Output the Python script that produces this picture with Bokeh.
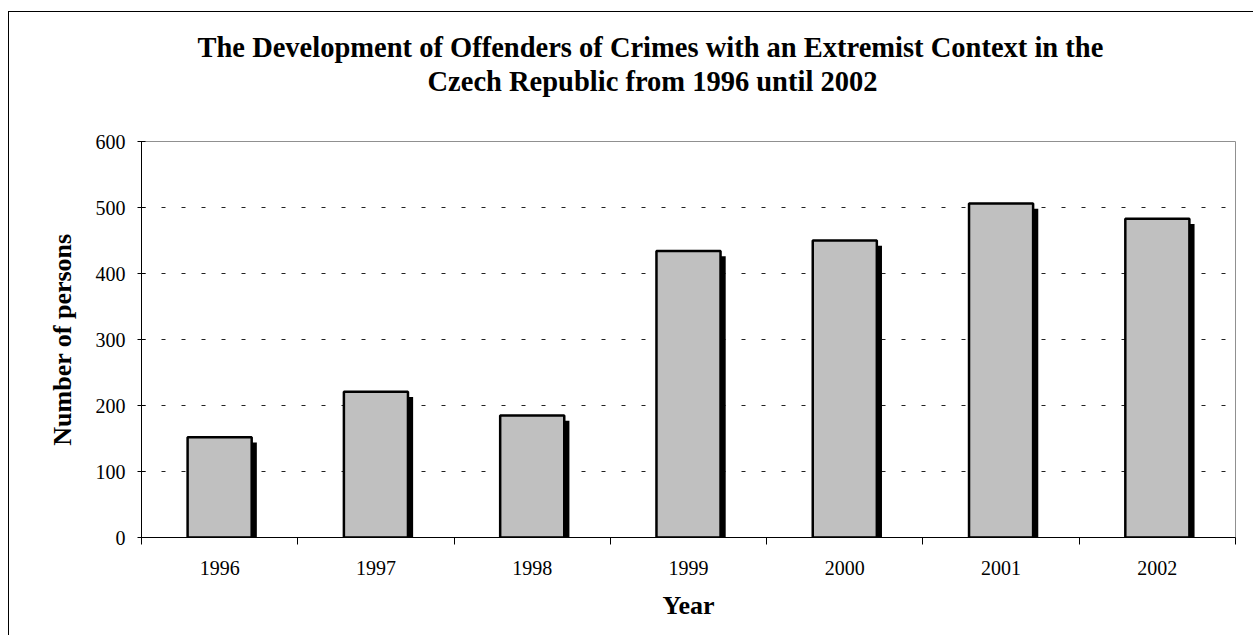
from bokeh.plotting import figure
from bokeh.models import (ColumnDataSource, Range1d, FixedTicker, SingleIntervalTicker, Title)
from bokeh.transform import dodge
from bokeh.embed import file_html
from bokeh.resources import INLINE

# ---- data ----
years = ["1996", "1997", "1998", "1999", "2000", "2001", "2002"]
persons = [152, 221, 185, 434, 450, 506, 483]
title_lines = ["The Development of Offenders of Crimes with an Extremist Context in the",
               "Czech Republic from 1996 until  2002"]
x_label = "Year"
y_label = "Number of persons"

xpos = [i + 0.5 for i in range(len(years))]
src = ColumnDataSource(dict(x=xpos, top=persons, year=years))

FONT = "Liberation Serif"

# outer chart-area border (left and top edges; right/bottom fall outside the picture)
outer_border = ("linear-gradient(#000, #000) 8px 11px / 1px 100% no-repeat, "
                "linear-gradient(#000, #000) 8px 11px / 100% 1px no-repeat, white")

p = figure(width=1253, height=635, output_backend="svg", toolbar_location=None,
           x_range=Range1d(0, len(years)), y_range=Range1d(0, 600),
           min_border_left=141, min_border_right=18, min_border_top=141,
           min_border_bottom=98, background_fill_color="white",
           border_fill_alpha=0, styles={"background": outer_border})

# title: two centred lines stacked above the plot
p.title = None
p.add_layout(Title(text=" ", text_font_size="1px", standoff=40), "above")
p.add_layout(Title(text=title_lines[1], align="left", offset=286,
                   text_font=FONT, text_font_size="28.5px", text_font_style="bold",
                   text_color="black", standoff=3), "above")
p.add_layout(Title(text=title_lines[0], align="left", offset=56,
                   text_font=FONT, text_font_size="28.5px", text_font_style="bold",
                   text_color="black", standoff=0), "above")

# shadows then bars
p.vbar(x=dodge("x", 0.033, range=p.x_range), top=dodge("top", -8, range=p.y_range),
       bottom=0, width=0.41, source=src, fill_color="black", line_color=None)
p.vbar(x="x", top="top", bottom=0, width=0.41, source=src,
       fill_color="#C0C0C0", line_color="black", line_width=2.5)

p.outline_line_color = "#909090"
p.outline_line_width = 1

# grid
p.xgrid.grid_line_color = None
p.ygrid.ticker = SingleIntervalTicker(interval=100)
p.ygrid.grid_line_color = "#222222"
p.ygrid.grid_line_dash = "4 16"
p.ygrid.grid_line_width = 1

# x axis
xa = p.xaxis[0]
xa.ticker = FixedTicker(ticks=xpos, minor_ticks=list(range(len(years) + 1)))
xa.major_label_overrides = {x: y for x, y in zip(xpos, years)}
xa.major_tick_line_color = None
xa.major_tick_out = 0
xa.major_tick_in = 0
xa.minor_tick_out = 7
xa.minor_tick_in = 0
xa.minor_tick_line_color = "black"
xa.axis_line_color = "black"
xa.major_label_text_font = FONT
xa.major_label_text_font_size = "20px"
xa.major_label_text_color = "black"
xa.major_label_standoff = 16
xa.axis_label = x_label
xa.axis_label_text_font = FONT
xa.axis_label_text_font_size = "26px"
xa.axis_label_text_font_style = "bold"
xa.axis_label_text_color = "black"
xa.axis_label_standoff = 13

# y axis
ya = p.yaxis[0]
ya.ticker = SingleIntervalTicker(interval=100)
ya.minor_tick_line_color = None
ya.major_tick_out = 4
ya.major_tick_in = 4
ya.major_tick_line_color = "black"
ya.axis_line_color = "black"
ya.major_label_text_font = FONT
ya.major_label_text_font_size = "20px"
ya.major_label_text_color = "black"
ya.major_label_standoff = 12
ya.axis_label = y_label
ya.axis_label_text_font = FONT
ya.axis_label_text_font_size = "26px"
ya.axis_label_text_font_style = "bold"
ya.axis_label_text_color = "black"
ya.axis_label_standoff = 16

open("out.html", "w").write(file_html(p, INLINE))
